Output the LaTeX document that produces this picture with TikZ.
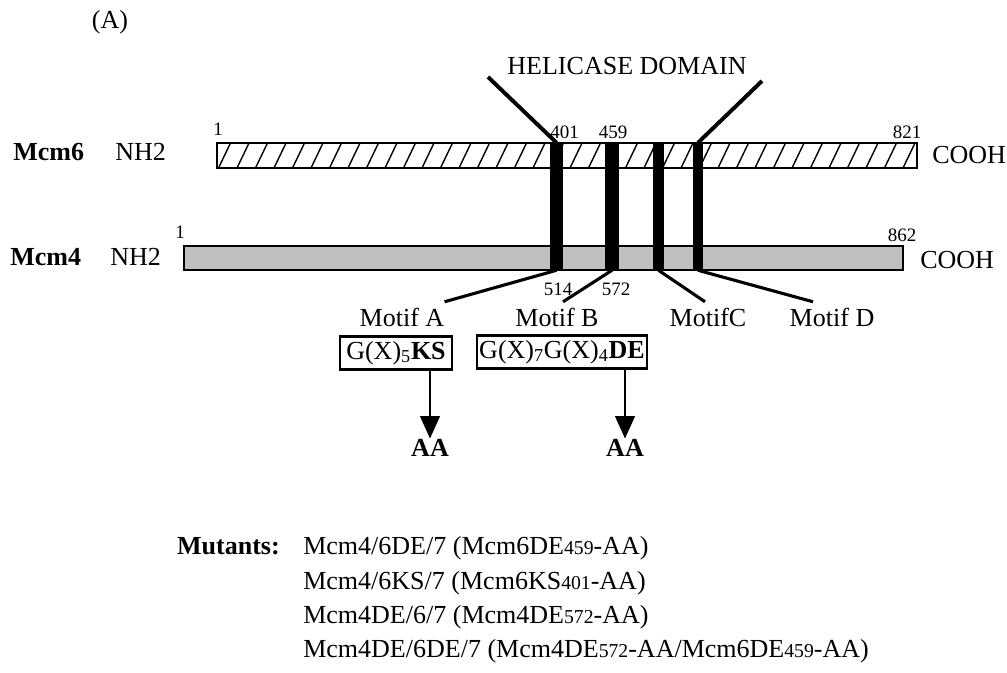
\documentclass[tikz,border=0pt]{standalone}
\usepackage{fontspec}
\setmainfont{Liberation Serif}
\usetikzlibrary{calc, positioning, fit, arrows.meta}

\newcommand{\smnum}[1]{{\fontsize{14}{16}\selectfont #1}}

\begin{document}
\begin{tikzpicture}[x=0.025cm, y=-0.025cm, >={Triangle[width=14pt,length=16pt]},
    txt/.style={font=\fontsize{18.5}{22}\selectfont, inner sep=0},
    num/.style={font=\fontsize{13.5}{16}\selectfont, inner sep=0},
    mlab/.style={txt, inner ysep=4pt},
    prot/.style={draw, line width=2.1pt, inner sep=0},
    motif/.style={fill=black, inner sep=0},
    seqbox/.style={draw, line width=1.8pt, font=\fontsize{18.5}{22}\selectfont, inner sep=0, minimum height=0.825cm}]
        \useasboundingbox (0,0) rectangle (1007,672);

        \node (panel) [txt] at (110,22) {(A)};

        % the two proteins
        \node (mcm6) [prot, fit={(217,143) (917,168)}] {};
        \begin{scope}
            \clip (mcm6.south west) rectangle (mcm6.north east);
            \foreach \x in {200,218.5,...,930}
                \draw[line width=1pt] (\x,168) -- (\x+12,143);
        \end{scope}
        \node (mcm4) [prot, fill=black!25, fit={(184,246) (903,270)}] {};

        \node (lab6) [txt, anchor=base west] at (13,160) {\textbf{Mcm6}};
        \node (nh6) [txt, anchor=base west] at (115,160) {NH2};
        \node (cooh6) [txt, anchor=base west] at (932,163) {COOH};
        \node (lab4) [txt, anchor=base west] at (10,265) {\textbf{Mcm4}};
        \node (nh4) [txt, anchor=base west] at (110,265) {NH2};
        \node (cooh4) [txt, anchor=base west] at (920,268) {COOH};

        \node (s6) [num, anchor=base] at (218,135) {1};
        \node (e6) [num, anchor=base] at (907,138) {821};
        \node (s4) [num, anchor=base] at (180,238) {1};
        \node (e4) [num, anchor=base] at (902,241) {862};

        % motifs
        \node (mA) [motif, fit={(550,143) (563,270)}] {};
        \node (mB) [motif, fit={(605,143) (619,270)}] {};
        \node (mC) [motif, fit={(653,143) (664,270)}] {};
        \node (mD) [motif, fit={(693,143) (703,270)}] {};

        \node (n401) [num, anchor=base west] at (550,138) {401};
        \node (n459) [num, anchor=base] at (613,138) {459};
        \node (n514) [num, anchor=base] at (558,295) {514};
        \node (n572) [num, anchor=base] at (616,295) {572};

        % helicase domain
        \node (hel) [txt, anchor=base] at (627,74) {HELICASE DOMAIN};
        \coordinate (hl) at (488,77);
        \coordinate (hr) at (762,81);
        \draw[line width=2.8pt] (hl) -- (mA.north);
        \draw[line width=2.8pt] (hr) -- (mD.north);

        \node (motA) [mlab, anchor=base] at (402,326) {Motif A};
        \node (motB) [mlab, anchor=base] at (557,326) {Motif B};
        \node (motC) [mlab, anchor=base] at (708,326) {MotifC};
        \node (motD) [mlab, anchor=base] at (832,326) {Motif D};

        \draw[line width=2.2pt] (mA.south) -- (motA.north east);
        \draw[line width=2.2pt] (mB.south) -- ($(motB.north)+(6,0)$);
        \draw[line width=2.2pt] (mC.south) -- ($(motC.north)+(-3,0)$);
        \draw[line width=2.2pt] (mD.south) -- ($(motD.north)+(-19,0)$);

        % sequences and mutations
        \node (boxA) [seqbox, minimum width=2.8cm] at (396,353) {G(X)\textsubscript{5}\textbf{KS}};
        \node (boxB) [seqbox, minimum width=4.25cm] at (562,352) {G(X)\textsubscript{7}G(X)\textsubscript{4}\textbf{DE}};

        \node (aaA) [txt, anchor=base] at (430,456) {\textbf{AA}};
        \node (aaB) [txt, anchor=base] at (625,456) {\textbf{AA}};

        \draw[->, line width=1.5pt] (boxA.south -| aaA.north) -- (aaA.north);
        \draw[->, line width=1.5pt] (boxB.south -| aaB.north) -- (aaB.north);

        % mutants
        \node (mut) [txt, anchor=base east] at (280,554) {\textbf{Mutants:}};
        \node (mut1) [txt, anchor=base west] at (303,554) {Mcm4/6DE/7 (Mcm6DE\smnum{459}-AA)};
        \node (mut2) [txt, anchor=base west] at (303,589) {Mcm4/6KS/7 (Mcm6KS\smnum{401}-AA)};
        \node (mut3) [txt, anchor=base west] at (303,623) {Mcm4DE/6/7 (Mcm4DE\smnum{572}-AA)};
        \node (mut4) [txt, anchor=base west] at (303,657) {Mcm4DE/6DE/7 (Mcm4DE\smnum{572}-AA/Mcm6DE\smnum{459}-AA)};
    \end{tikzpicture}
\end{document}
